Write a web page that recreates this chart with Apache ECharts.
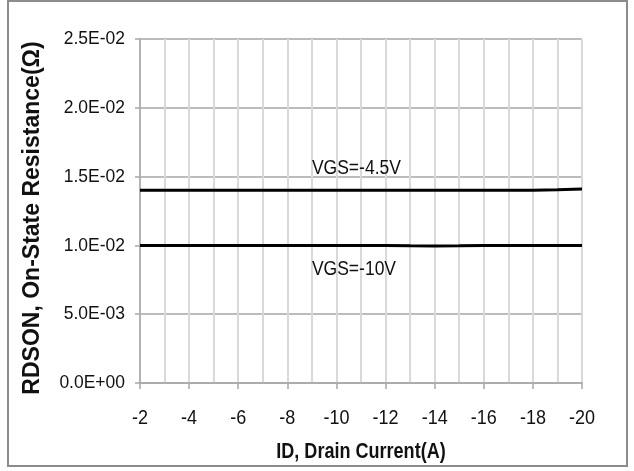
<!DOCTYPE html>
<html>
<head>
<meta charset="utf-8">
<script src="https://cdn.jsdelivr.net/npm/echarts@6/dist/echarts.min.js"></script>
<style>
  html, body { margin: 0; padding: 0; background: #fff; }
  #chart { width: 634px; height: 471px; }
</style>
</head>
<body>
<div id="chart"></div>
<script>
// Drain current (A), one point per amp
const drainCurrent = [-2, -3, -4, -5, -6, -7, -8, -9, -10, -11, -12, -13, -14, -15, -16, -17, -18, -19, -20];
// On-state resistance (ohm) at each gate voltage
const rdsVgs45 = [0.0140, 0.0140, 0.0140, 0.0140, 0.0140, 0.0140, 0.0140, 0.0140, 0.0140, 0.0140,
                  0.0140, 0.0140, 0.0140, 0.0140, 0.0140, 0.0140, 0.0140, 0.01404, 0.01410];
const rdsVgs10 = [0.0100, 0.0100, 0.0100, 0.0100, 0.0100, 0.0100, 0.0100, 0.0100, 0.0100, 0.0100,
                  0.0100, 0.00997, 0.00995, 0.00997, 0.0100, 0.0100, 0.0100, 0.0100, 0.0100];
const seriesNames = ['VGS=-4.5V', 'VGS=-10V'];
// axis tick values
const xTicks = [-2, -4, -6, -8, -10, -12, -14, -16, -18, -20];
const yTicks = [0, 0.005, 0.010, 0.015, 0.020, 0.025];
const xTitle = 'ID, Drain Current(A)';
const yTitle = 'RDSON, On-State Resistance(Ω)';
// where each curve's caption starts along the current axis
const captionAt = -9;

const FONT = "'Liberation Sans', Arial, sans-serif";
const INK = '#111';

function sciLabel(v) {
  if (v === 0) return '0.0E+00';
  const exp = Math.floor(Math.log10(Math.abs(v)) + 1e-9);
  const mant = v / Math.pow(10, exp);
  const sign = exp < 0 ? '-' : '+';
  const e = String(Math.abs(exp)).padStart(2, '0');
  return mant.toFixed(1) + 'E' + sign + e;
}

function pairs(ys) {
  return drainCurrent.map((x, i) => [x, ys[i]]);
}

const chart = echarts.init(document.getElementById('chart'), null, { renderer: 'canvas' });

chart.setOption({
  animation: false,
  backgroundColor: '#fff',
  grid: { left: 140, right: 52, top: 39, bottom: 88 },
  xAxis: {
    type: 'value',
    min: -20,
    max: -2,
    interval: 2,
    inverse: true,
    axisLine: { show: true, onZero: false, lineStyle: { color: '#a6a6a6', width: 1.5 } },
    axisTick: { show: true, length: 6, lineStyle: { color: '#a6a6a6', width: 1.5 } },
    axisLabel: { show: false },
    splitLine: { show: true, lineStyle: { color: '#d9d9d9', width: 2 } },
    minorTick: { show: false, splitNumber: 2 },
    minorSplitLine: { show: true, lineStyle: { color: '#d9d9d9', width: 2 } }
  },
  yAxis: {
    type: 'value',
    min: 0,
    max: 0.025,
    interval: 0.005,
    axisLine: { show: true, lineStyle: { color: '#a6a6a6', width: 1.5 } },
    axisTick: { show: true, length: 5, lineStyle: { color: '#a6a6a6', width: 1.5 } },
    axisLabel: { show: false },
    splitLine: { show: true, lineStyle: { color: '#a6a6a6', width: 1.5 } }
  },
  series: [
    {
      name: seriesNames[0],
      type: 'line',
      data: pairs(rdsVgs45),
      showSymbol: false,
      lineStyle: { color: '#000', width: 3 }
    },
    {
      name: seriesNames[1],
      type: 'line',
      data: pairs(rdsVgs10),
      showSymbol: false,
      lineStyle: { color: '#000', width: 3 }
    }
  ]
});

// Text is set in a condensed face: draw it as graphic text squeezed horizontally,
// placed through the chart's own coordinate conversion.
function narrowText(text, x, y, size, scale, align, opts) {
  return Object.assign({
    type: 'text',
    x: x,
    y: y,
    scaleX: scale,
    silent: true,
    style: {
      text: text,
      font: (opts && opts.bold ? 'bold ' : '') + size + 'px ' + FONT,
      fill: INK,
      align: align,
      verticalAlign: 'middle'
    }
  }, opts && opts.extra);
}

const toPx = (x, y) => chart.convertToPixel({ gridIndex: 0 }, [x, y]);
const origin = toPx(-2, 0);
const corner = toPx(-20, 0.025);
const graphics = [{
  type: 'rect',
  shape: { x: 8, y: 1, width: 619, height: 465 },
  style: { fill: 'none', stroke: '#8c8c8c', lineWidth: 2 },
  silent: true,
  z: -1
}];

xTicks.forEach(v => {
  const p = toPx(v, 0);
  graphics.push(narrowText(String(v), p[0], p[1] + 35, 20, 0.9, 'center'));
});
yTicks.forEach(v => {
  const p = toPx(-2, v);
  graphics.push(narrowText(sciLabel(v), p[0] - 15, p[1], 19, 0.92, 'right'));
});

// curve captions
[[rdsVgs45, seriesNames[0], -22], [rdsVgs10, seriesNames[1], 24]].forEach(([ys, name, dy]) => {
  const p = toPx(captionAt, ys[drainCurrent.indexOf(captionAt)]);
  graphics.push(narrowText(name, p[0], p[1] + dy, 20, 0.875, 'left'));
});

// axis titles
graphics.push(narrowText(xTitle, (origin[0] + corner[0]) / 2, 452, 22, 0.82, 'center', { bold: true }));
graphics.push({
  type: 'text',
  x: 33,
  y: (origin[1] + corner[1]) / 2 + 7,
  rotation: Math.PI / 2,
  silent: true,
  style: {
    text: yTitle,
    font: 'bold 23px ' + FONT,
    fill: INK,
    align: 'center',
    verticalAlign: 'middle'
  }
});

chart.setOption({ graphic: graphics });
</script>
</body>
</html>
